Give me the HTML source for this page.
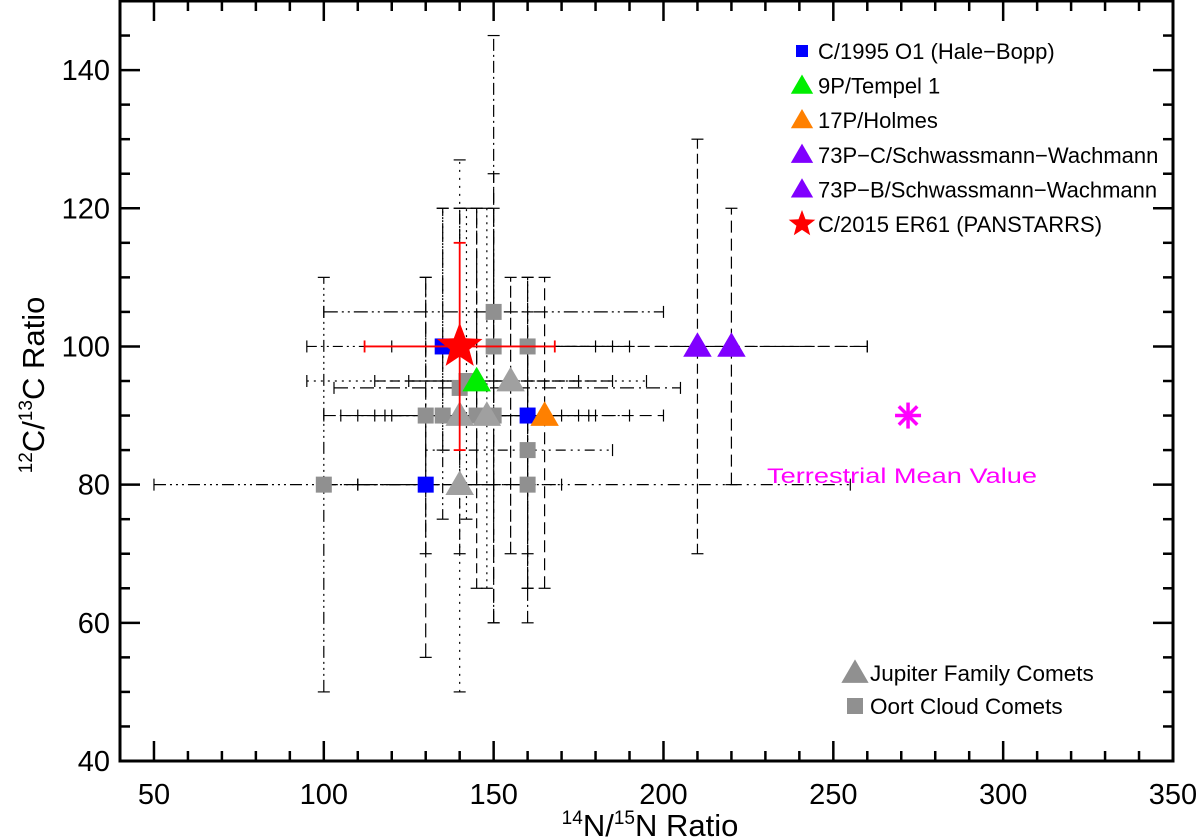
<!DOCTYPE html>
<html><head><meta charset="utf-8"><style>
html,body{margin:0;padding:0;background:#fff;}
svg{display:block;font-family:"Liberation Sans",sans-serif;}
</style></head><body>
<svg id="chart" width="1200" height="839" viewBox="0 0 1200 839" xmlns="http://www.w3.org/2000/svg">
<g id="bars"></g>
<g id="marks"></g>
<g id="top"></g>
<g id="axes"></g>
<text x="650" y="836" font-size="31" text-anchor="middle"><tspan font-size="19" dy="-12">14</tspan><tspan dy="12">N/</tspan><tspan font-size="19" dy="-12">15</tspan><tspan dy="12">N Ratio</tspan></text>
<text transform="translate(44,385) rotate(-90)" font-size="31" text-anchor="middle"><tspan font-size="19" dy="-12">12</tspan><tspan dy="12">C/</tspan><tspan font-size="19" dy="-12">13</tspan><tspan dy="12">C Ratio</tspan></text>
<text x="767" y="483" font-size="21.5" fill="#ff00ff" textLength="270" lengthAdjust="spacingAndGlyphs">Terrestrial Mean Value</text>
<g id="legend"></g>
</svg>
<script>
// ---- data ----
const xs   = [100,130,140,130,135,145,150,140,148,160,165,135,140,150,160,150,142,140,145,155,160,160,210,220];
const ys   = [80, 80, 80, 90, 90, 90, 90, 90, 90, 90, 90, 100,100,100,100,105,95, 94, 95, 95, 85, 80, 100,100];
const xlo  = [50, 100,110,100,105,115,120,110,118,130,140,95, 112,120,130,100,95, 103,115,125,130,110,140,150];
const xhi  = [150,160,170,160,165,175,180,170,178,190,200,185,168,180,190,200,195,205,175,185,185,255,260,260];
const ylo  = [50, 55, 50, 70, 75, 80, 60, 70, 65, 65, 65, 85, 85, 60, 60, 80, 75, 80, 65, 70, 70, 65, 70, 80];
const yhi  = [110,110,127,110,120,120,145,120,120,110,110,120,115,125,110,120,120,120,120,110,105,100,130,120];
const kind = ["sq","sq","tri","sq","sq","sq","sq","tri","tri","sq","tri","sq","star","sq","sq","sq","sq","sq","tri","tri","sq","sq","tri","tri"];
const cols = ["#909090","#0000ff","#a0a0a0","#909090","#909090","#909090","#909090","#a0a0a0","#a0a0a0","#0000ff","#ff8000","#0000ff","#ff0000","#909090","#909090","#909090","#909090","#909090","#00ee00","#a0a0a0","#909090","#909090","#8000ff","#8000ff"];
const dashes = ["12 4 2 4 2 4 2 4","14 6","2 6","12 4 2 4","10 4 2 4 2 4","14 6","12 4 2 4","10 5","2 5","12 4 2 4","12 6","10 4 2 4 2 4","","14 6","12 4 2 4","14 4 2 4 2 4","2 5","14 5 2 5","10 5","12 4","2 5 2 5 10 5","12 5 2 5 2 5","10 5","12 6"];
const xTicks = [50,100,150,200,250,300,350];
const yTicks = [40,60,80,100,120,140];
const terrX = [272], terrY = [90];
const legendLabels = ["C/1995 O1 (Hale\u2212Bopp)","9P/Tempel 1","17P/Holmes","73P\u2212C/Schwassmann\u2212Wachmann","73P\u2212B/Schwassmann\u2212Wachmann","C/2015 ER61 (PANSTARRS)"];
const legendKinds = ["sq","tri","tri","tri","tri","star"];
const legendCols = ["#0000ff","#00ee00","#ff8000","#8000ff","#8000ff","#ff0000"];

const NS="http://www.w3.org/2000/svg";
const L=120,R=1173,T=1,B=761, X0=40,X1=350,Y0=40,Y1=150;
const sx=v=>L+(v-X0)*(R-L)/(X1-X0);
const sy=v=>B-(v-Y0)*(B-T)/(Y1-Y0);
function mk(tag,at,parent){const e=document.createElementNS(NS,tag);for(const k in at)e.setAttribute(k,at[k]);parent.appendChild(e);return e;}
const gb=document.getElementById('bars'),gm=document.getElementById('marks'),gt=document.getElementById('top'),ga=document.getElementById('axes'),gl=document.getElementById('legend');

function marker(k,c,x,y,s,parent){
  let e;
  if(k==="sq"){e=mk('rect',{x:x-s*0.5,y:y-s*0.5,width:s,height:s,fill:c},parent);}
  else if(k==="tri"){e=mk('polygon',{points:`${x},${y-s*0.62} ${x-s*0.62},${y+s*0.45} ${x+s*0.62},${y+s*0.45}`,fill:c},parent);}
  else {let p=[];for(let i=0;i<10;i++){const r=i%2?s*0.42:s;const a=-Math.PI/2+i*Math.PI/5;p.push((x+r*Math.cos(a)).toFixed(1)+","+(y+r*Math.sin(a)).toFixed(1));}
    e=mk('polygon',{points:p.join(' '),fill:c},parent);}
  return e;
}

for(let i=0;i<xs.length;i++){
  const red=kind[i]==="star";
  const st=red?"#ff0000":"#000", w=red?1.8:1.2;
  const g=mk('g',{},red?gt:gb);
  
  
  const da=dashes[i]?{"stroke-dasharray":dashes[i]}:{};
  mk('line',Object.assign({x1:sx(xlo[i]),x2:sx(xhi[i]),y1:sy(ys[i]),y2:sy(ys[i]),stroke:st,"stroke-width":w},da),g);
  mk('line',Object.assign({x1:sx(xs[i]),x2:sx(xs[i]),y1:sy(ylo[i]),y2:sy(yhi[i]),stroke:st,"stroke-width":w},da),g);
  [[xlo[i]],[xhi[i]]].forEach(v=>mk('line',{x1:sx(v[0]),x2:sx(v[0]),y1:sy(ys[i])-6,y2:sy(ys[i])+6,stroke:st,"stroke-width":w},g));
  [[ylo[i]],[yhi[i]]].forEach(v=>mk('line',{x1:sx(xs[i])-6,x2:sx(xs[i])+6,y1:sy(v[0]),y2:sy(v[0]),stroke:st,"stroke-width":w},g));
}
const order=[...xs.keys()].sort((a,b)=>(cols[a]==="#909090"||cols[a]==="#a0a0a0"?0:1)-(cols[b]==="#909090"||cols[b]==="#a0a0a0"?0:1));
for(const i of order){
  const isStar=kind[i]==="star";
  const s=isStar?24:kind[i]==="tri"?23:16;
  const e=marker(kind[i],cols[i],sx(xs[i]),sy(ys[i]),s,isStar?gt:gm);
  
  
}
// terrestrial asterisk
for(let i=0;i<terrX.length;i++){
  const g=mk('g',{stroke:"#ff00ff","stroke-width":3.5},gm);
  
  
  const cx=sx(terrX[i]),cy=sy(terrY[i]);
  for(let k=0;k<4;k++){const a=k*Math.PI/4;mk('line',{x1:cx-13*Math.cos(a),y1:cy-13*Math.sin(a),x2:cx+13*Math.cos(a),y2:cy+13*Math.sin(a)},g);}
}
// axes frame
mk('rect',{x:L,y:T,width:R-L,height:B-T,fill:"none",stroke:"#000","stroke-width":3},ga);
for(let v=X0;v<=X1;v+=10){const maj=v%50===0;const len=maj?20:10;
  mk('line',{x1:sx(v),x2:sx(v),y1:B,y2:B-len,stroke:"#000","stroke-width":2.5},ga);
  mk('line',{x1:sx(v),x2:sx(v),y1:T,y2:T+len,stroke:"#000","stroke-width":2.5},ga);}
for(let v=Y0;v<=Y1;v+=5){const maj=v%20===0;const len=maj?20:10;
  mk('line',{x1:L,x2:L+len,y1:sy(v),y2:sy(v),stroke:"#000","stroke-width":2.5},ga);
  mk('line',{x1:R,x2:R-len,y1:sy(v),y2:sy(v),stroke:"#000","stroke-width":2.5},ga);}
xTicks.forEach(v=>{const t=mk('text',{x:sx(v),y:804,"font-size":29,"text-anchor":"middle"},ga);t.textContent=v;
  
  });
yTicks.forEach(v=>{const t=mk('text',{x:110,y:sy(v)+10,"font-size":29,"text-anchor":"end"},ga);t.textContent=v;
  
  });
// legend
legendLabels.forEach((lab,i)=>{
  const y=51+i*34.6;
  const g=mk('g',{},gl);
  
  
  const s=legendKinds[i]==="sq"?12:legendKinds[i]==="star"?14:18;
  marker(legendKinds[i],legendCols[i],802,y,s,g);
  const t=mk('text',{x:818,y:y+8,"font-size":22},g);t.textContent=lab;
});
[["tri","Jupiter Family Comets",673],["sq","Oort Cloud Comets",706]].forEach(d=>{
  const g=mk('g',{},gl);
  
  
  marker(d[0],"#909090",855,d[2],d[0]==="tri"?22:16,g);
  const t=mk('text',{x:870,y:d[2]+8,"font-size":22.5},g);t.textContent=d[1];
});
</script>
</body></html>
